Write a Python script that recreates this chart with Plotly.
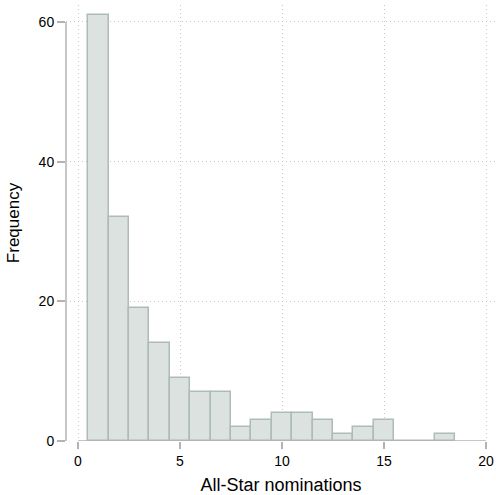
import plotly.graph_objects as go

nominations = [1, 2, 3, 4, 5, 6, 7, 8, 9, 10, 11, 12, 13, 14, 15, 16, 17, 18]
frequency = [61, 32, 19, 14, 9, 7, 7, 2, 3, 4, 4, 3, 1, 2, 3, 0, 0, 1]
x_ticks = [0, 5, 10, 15, 20]
y_ticks = [0, 20, 40, 60]

fig = go.Figure()
fig.add_trace(go.Bar(
    x=nominations, y=frequency, width=1,
    marker=dict(color="#dce2df", line=dict(color="#aebbb6", width=1.5)),
    showlegend=False,
))

axis_col = "#b3b3b3"
fig.add_shape(type="line", xref="x", yref="y", x0=0, x1=20, y0=0, y1=0,
              line=dict(color=axis_col, width=1.5), layer="above")
fig.add_shape(type="line", xref="paper", yref="y", x0=0, x1=0, y0=0, y1=60,
              line=dict(color=axis_col, width=1.5), layer="above")

font = "Liberation Sans, Arial, sans-serif"
grid = dict(showgrid=True, gridcolor="#c4c4c4", griddash="1px,3px", gridwidth=1)
fig.update_layout(
    width=496, height=495,
    margin=dict(l=66, r=0, t=5, b=52),
    plot_bgcolor="white", paper_bgcolor="white",
    font=dict(family=font, color="black", size=14),
    bargap=0,
    xaxis=dict(
        range=[-0.588, 20.49], tickvals=x_ticks, ticks="outside", ticklen=7,
        tickcolor=axis_col, tickwidth=1.5, showline=False, zeroline=False,
        title=dict(text="All-Star nominations", font=dict(size=18), standoff=14),
        tickfont=dict(size=14), **grid,
    ),
    yaxis=dict(
        range=[0, 62.42], tickvals=y_ticks, ticks="outside", ticklen=8,
        tickcolor=axis_col, tickwidth=1.5, showline=False, zeroline=False,
        title=dict(text="Frequency", font=dict(size=17), standoff=14),
        tickfont=dict(size=14), **grid,
    ),
)

fig.write_html("out.html")
